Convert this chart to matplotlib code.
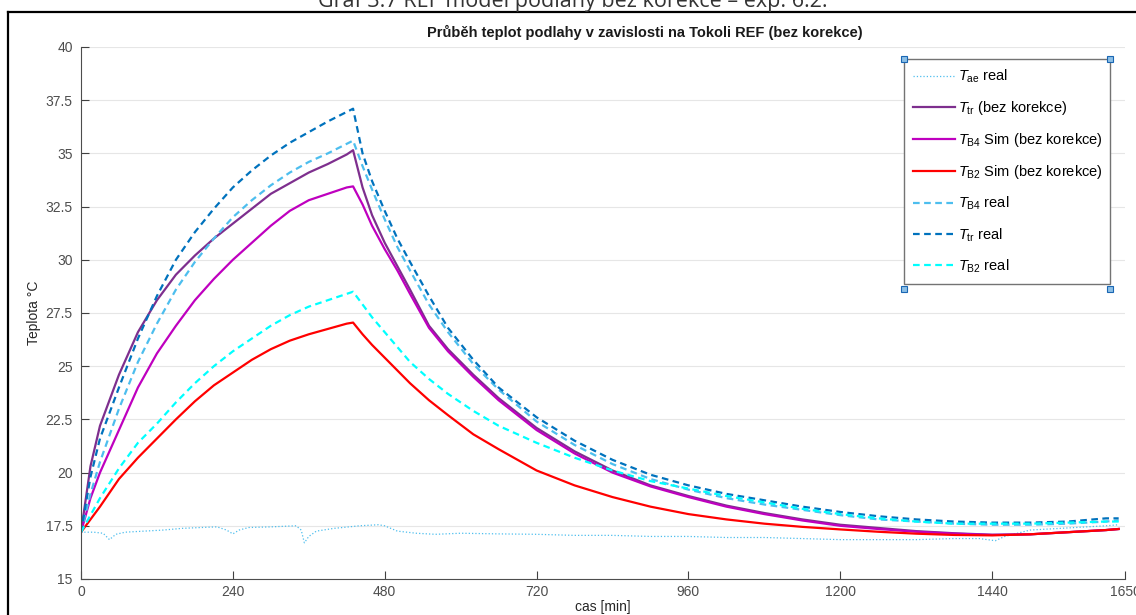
import numpy as np
import matplotlib
matplotlib.use("Agg")
import matplotlib.pyplot as plt
from matplotlib.lines import Line2D
from matplotlib.patches import Rectangle

plt.rcParams['font.family'] = ['Liberation Sans', 'DejaVu Sans']
plt.rcParams['mathtext.fontset'] = 'custom'
plt.rcParams['mathtext.rm'] = 'Liberation Sans'
plt.rcParams['mathtext.it'] = 'Liberation Sans:italic'

# cas [min] - spolecna casova osa pro hladke krivky
t = [0, 15, 30, 60, 90, 120, 150, 180, 210, 240, 270, 300, 330, 360, 390, 420, 430,
     445, 460, 480, 500, 520, 550, 580, 620, 660, 720, 780, 840, 900, 960, 1020, 1080,
     1140, 1200, 1260, 1320, 1380, 1440, 1500, 1560, 1620, 1640]

tr_sim = [17.2, 20.3, 22.2, 24.6, 26.6, 28.1, 29.3, 30.2, 31.0, 31.7, 32.4, 33.1, 33.6, 34.1, 34.5, 34.95, 35.15,
          33.4, 32.1, 30.8, 29.7, 28.6, 26.9, 25.8, 24.6, 23.5, 22.1, 21.0, 20.1, 19.4, 18.9, 18.45, 18.1,
          17.8, 17.55, 17.4, 17.25, 17.15, 17.08, 17.1, 17.2, 17.3, 17.35]
b4_sim = [17.2, 18.8, 20.0, 22.0, 24.0, 25.6, 26.9, 28.1, 29.1, 30.0, 30.8, 31.6, 32.3, 32.8, 33.1, 33.4, 33.45,
          32.6, 31.6, 30.5, 29.5, 28.4, 26.8, 25.7, 24.5, 23.4, 22.0, 20.9, 20.0, 19.35, 18.85, 18.4, 18.05,
          17.75, 17.5, 17.35, 17.22, 17.13, 17.07, 17.1, 17.2, 17.3, 17.35]
b2_sim = [17.2, 17.8, 18.4, 19.7, 20.7, 21.6, 22.5, 23.35, 24.1, 24.7, 25.3, 25.8, 26.2, 26.5, 26.75, 27.0, 27.05,
          26.5, 26.0, 25.4, 24.8, 24.2, 23.4, 22.7, 21.8, 21.1, 20.1, 19.4, 18.85, 18.4, 18.05, 17.8, 17.6,
          17.45, 17.33, 17.22, 17.13, 17.07, 17.05, 17.1, 17.2, 17.3, 17.35]
b4_real = [17.2, 19.0, 20.5, 23.0, 25.2, 27.0, 28.6, 29.9, 31.0, 32.0, 32.8, 33.5, 34.1, 34.6, 35.0, 35.45, 35.6,
           34.4, 33.3, 31.9, 30.6, 29.5, 27.9, 26.6, 25.1, 23.9, 22.4, 21.3, 20.4, 19.7, 19.2, 18.8, 18.5,
           18.25, 18.0, 17.8, 17.7, 17.6, 17.55, 17.55, 17.6, 17.7, 17.75]
tr_real = [17.2, 19.8, 21.6, 24.0, 26.3, 28.3, 30.0, 31.3, 32.4, 33.4, 34.2, 34.9, 35.5, 36.0, 36.5, 36.95, 37.1,
           35.0, 33.7, 32.3, 31.0, 29.9, 28.3, 26.8, 25.3, 24.0, 22.6, 21.5, 20.6, 19.9, 19.4, 19.0, 18.7,
           18.4, 18.15, 17.95, 17.8, 17.7, 17.65, 17.65, 17.7, 17.85, 17.85]
b2_real = [17.2, 18.0, 18.8, 20.2, 21.4, 22.3, 23.3, 24.2, 25.0, 25.7, 26.3, 26.9, 27.4, 27.8, 28.1, 28.4, 28.5,
           27.9, 27.3, 26.6, 25.9, 25.2, 24.4, 23.7, 22.9, 22.2, 21.4, 20.7, 20.1, 19.6, 19.25, 18.9, 18.6,
           18.3, 18.05, 17.85, 17.7, 17.6, 17.6, 17.6, 17.65, 17.7, 17.7]

# venkovni teplota
t_ae = [0, 20, 35, 45, 55, 70, 100, 130, 160, 190, 215, 230, 240, 250, 265, 300, 340, 348, 353, 360,
        372, 400, 440, 470, 480, 500, 530, 560, 600, 660, 720, 780, 840, 900, 960, 1020, 1080, 1140,
        1200, 1260, 1320, 1380, 1420, 1445, 1460, 1500, 1560, 1620, 1640]
ae_real = [17.2, 17.2, 17.15, 16.85, 17.1, 17.2, 17.25, 17.3, 17.38, 17.42, 17.45, 17.3, 17.12, 17.3, 17.42,
           17.45, 17.5, 17.3, 16.7, 17.0, 17.25, 17.38, 17.5, 17.55, 17.5, 17.25, 17.15, 17.1, 17.15, 17.12,
           17.1, 17.05, 17.05, 17.0, 17.0, 16.95, 16.95, 16.9, 16.85, 16.85, 16.85, 16.9, 16.9, 16.8, 17.0,
           17.3, 17.4, 17.5, 17.55]

xticks = [0, 240, 480, 720, 960, 1200, 1440, 1650]
yticks = [15, 17.5, 20, 22.5, 25, 27.5, 30, 32.5, 35, 37.5, 40]
ytick_labels = ['15', '17.5', '20', '22.5', '25', '27.5', '30', '32.5', '35', '37.5', '40']

fig = plt.figure(figsize=(11.36, 6.15), dpi=100)
ax = fig.add_axes([81 / 1136, 36 / 615, 1044 / 1136, 532 / 615])

dash = (3.0, 2.0)
ax.plot(t_ae, ae_real, ':', color=(0.301, 0.745, 0.933), lw=0.9, label=r'$T_{\mathrm{ae}}$ real')
ax.plot(t, tr_sim, '-', color=(0.494, 0.184, 0.556), lw=1.6, label=r'$T_{\mathrm{tr}}$ (bez korekce)')
ax.plot(t, b4_sim, '-', color=(0.75, 0.0, 0.75), lw=1.6, label=r'$T_{\mathrm{B4}}$ Sim (bez korekce)')
ax.plot(t, b2_sim, '-', color=(1.0, 0.0, 0.0), lw=1.6, label=r'$T_{\mathrm{B2}}$ Sim (bez korekce)')
ax.plot(t, b4_real, '--', dashes=dash, color=(0.301, 0.745, 0.933), lw=1.6, label=r'$T_{\mathrm{B4}}$ real')
ax.plot(t, tr_real, '--', dashes=dash, color=(0.0, 0.447, 0.741), lw=1.6, label=r'$T_{\mathrm{tr}}$ real')
ax.plot(t, b2_real, '--', dashes=dash, color=(0.0, 1.0, 1.0), lw=1.6, label=r'$T_{\mathrm{B2}}$ real')

ax.set_xlim(0, 1650)
ax.set_ylim(15, 40)
ax.set_xticks(xticks)
ax.set_yticks(yticks)
ax.set_yticklabels(ytick_labels)
ax.tick_params(direction='in', length=6, width=0.8, colors='0.25', labelsize=10, labelcolor='0.3')
ax.tick_params(axis='x', pad=4)
ax.tick_params(axis='y', pad=6)
ax.grid(axis='y', color='0.9', lw=0.8)
ax.set_axisbelow(True)
for s in ['top', 'right']:
    ax.spines[s].set_visible(False)
for s in ['left', 'bottom']:
    ax.spines[s].set_color('0.3')
    ax.spines[s].set_linewidth(0.8)

ax.set_xlabel('cas [min]', fontsize=10, color='0.15', labelpad=1)
ax.set_ylabel('Teplota °C', fontsize=10, color='0.15', labelpad=3)

fig.text(645 / 1136, 1 - 32 / 615, 'Průběh teplot podlahy v zavislosti na Tokoli REF (bez korekce)',
         ha='center', va='center', fontsize=10.5, fontweight='bold', color='0.1')

# popisek grafu nahore (oriznuty)
fig.text(573 / 1136, 1 - 7 / 615, 'Graf 3.7 REF model podlahy bez korekce – exp. 6.2.',
         ha='center', va='baseline', fontsize=15.5, color='0.2', family=['Open Sans', 'DejaVu Sans'])

# ramecek
fig.add_artist(Line2D([8 / 1136, 1.0], [1 - 12 / 615, 1 - 12 / 615], color='black', lw=1.6,
                      transform=fig.transFigure))
fig.add_artist(Line2D([8 / 1136, 8 / 1136], [0, 1 - 12 / 615], color='black', lw=1.6,
                      transform=fig.transFigure))

lx0, ly0, lx1, ly1 = 904 / 1136, 1 - 289 / 615, 1110 / 1136, 1 - 59 / 615
leg = ax.legend(loc='upper left', bbox_to_anchor=(lx0, ly0, lx1 - lx0, ly1 - ly0),
                bbox_transform=fig.transFigure, mode='expand', fontsize=10.5, frameon=True,
                fancybox=False, edgecolor='0.45', framealpha=1, labelspacing=0.95,
                handlelength=2.9, handletextpad=0.2, borderpad=0.62, borderaxespad=0)
leg.get_frame().set_linewidth(1.0)

# uchyty vyberu v rozich legendy
for cx, cy in [(lx0, ly0), (lx1, ly0), (lx0, ly1), (lx1, ly1)]:
    fig.add_artist(Rectangle((cx - 3 / 1136, cy - 3 / 615), 6 / 1136, 6 / 615, transform=fig.transFigure,
                             facecolor=(0.55, 0.75, 0.9), edgecolor=(0.1, 0.4, 0.7), lw=0.8, zorder=10))

fig.savefig('out.png', dpi=100)
